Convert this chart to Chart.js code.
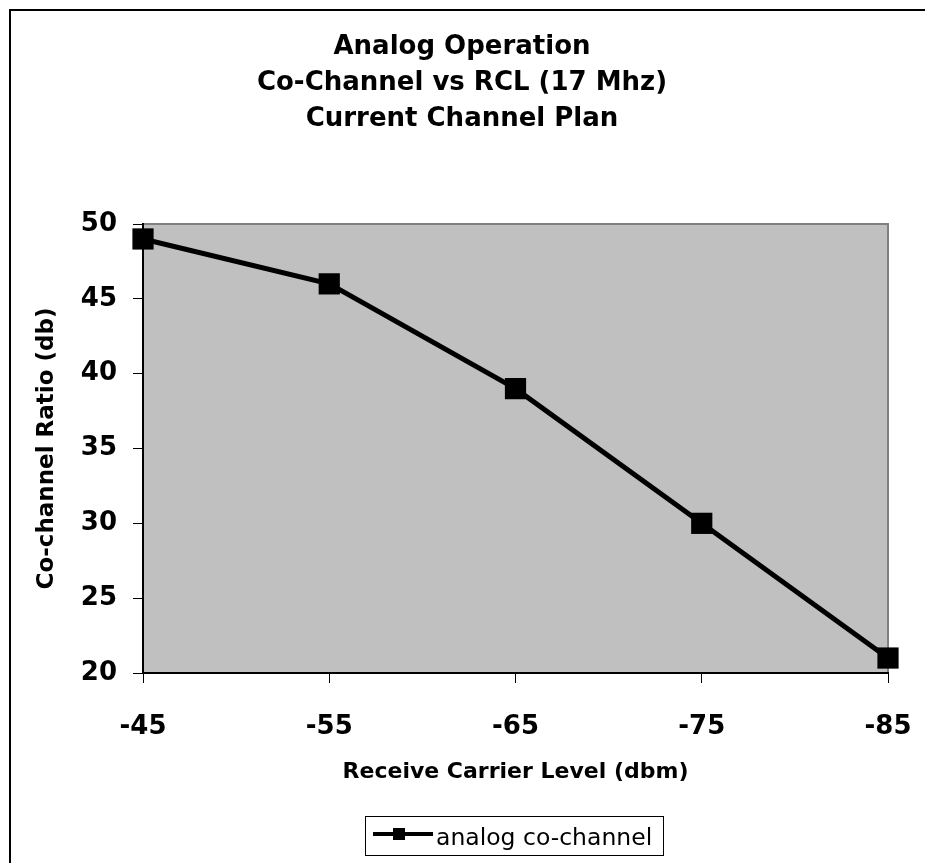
<!DOCTYPE html>
<html>
<head>
<meta charset="utf-8">
<script src="https://cdn.jsdelivr.net/npm/chart.js@4/dist/chart.umd.min.js"></script>
<style>
  html, body { margin: 0; padding: 0; background: #ffffff; }
  #wrap { width: 925px; height: 863px; position: relative; }
  canvas { display: block; }
</style>
</head>
<body>
<div id="wrap"><canvas id="c" width="925" height="863"></canvas></div>
<script>
// Chart content
const titleLines = ['Analog Operation', 'Co-Channel vs RCL (17 Mhz)', 'Current Channel Plan'];
const categories = ['-45', '-55', '-65', '-75', '-85'];
const coChannel = [49, 46, 39, 30, 21];
const seriesName = 'analog co-channel';
const yTicks = [20, 25, 30, 35, 40, 45, 50];
const xAxisTitle = 'Receive Carrier Level (dbm)';
const yAxisTitle = 'Co-channel Ratio (db)';

const FONT = '"DejaVu Sans", "Liberation Sans", Arial, sans-serif';

// Page frame, grey plotting area, heading and legend box
const framePlugin = {
  id: 'frame',
  beforeDraw(chart) {
    const { ctx, chartArea: a } = chart;
    ctx.save();
    ctx.fillStyle = '#ffffff';
    ctx.fillRect(0, 0, chart.width, chart.height);
    // outer frame (top and left edges visible)
    ctx.strokeStyle = '#000000';
    ctx.lineWidth = 2;
    ctx.strokeRect(10, 10, chart.width + 20, chart.height + 20);
    // plot background
    ctx.fillStyle = '#c0c0c0';
    ctx.fillRect(a.left, a.top, a.right - a.left, a.bottom - a.top);
    // top and right plot edges
    ctx.strokeStyle = '#808080';
    ctx.lineWidth = 2;
    ctx.beginPath();
    ctx.moveTo(a.left, a.top);
    ctx.lineTo(a.right, a.top);
    ctx.lineTo(a.right, a.bottom);
    ctx.stroke();
    ctx.restore();
  },
  afterDraw(chart) {
    const { ctx } = chart;
    ctx.save();
    // heading
    ctx.fillStyle = '#000000';
    ctx.font = 'bold 26px ' + FONT;
    ctx.textAlign = 'center';
    ctx.textBaseline = 'middle';
    titleLines.forEach((line, i) => ctx.fillText(line, 462, 47 + i * 36));

    // legend
    const ds = chart.data.datasets[0];
    const bx = 365, by = 816, bw = 298, bh = 39;
    ctx.fillStyle = '#ffffff';
    ctx.fillRect(bx, by, bw, bh);
    ctx.strokeStyle = '#000000';
    ctx.lineWidth = 1;
    ctx.strokeRect(bx + 0.5, by + 0.5, bw, bh);
    const cy = 834;
    ctx.strokeStyle = ds.borderColor;
    ctx.lineWidth = 4;
    ctx.beginPath();
    ctx.moveTo(373, cy);
    ctx.lineTo(433, cy);
    ctx.stroke();
    ctx.fillStyle = ds.pointBackgroundColor;
    ctx.fillRect(393, cy - 6, 12, 12);
    ctx.fillStyle = '#000000';
    ctx.font = '23.5px ' + FONT;
    ctx.textAlign = 'left';
    ctx.textBaseline = 'alphabetic';
    ctx.fillText(ds.label, 436, 845);
    ctx.restore();
  }
};

new Chart(document.getElementById('c'), {
  type: 'line',
  data: {
    labels: categories,
    datasets: [{
      label: seriesName,
      data: coChannel,
      borderColor: '#000000',
      borderWidth: 5,
      backgroundColor: '#000000',
      pointStyle: 'rect',
      pointRadius: 15,
      pointHoverRadius: 15,
      pointBackgroundColor: '#000000',
      pointBorderColor: '#000000',
      pointBorderWidth: 0,
      tension: 0,
      fill: false,
      clip: false
    }]
  },
  options: {
    responsive: false,
    devicePixelRatio: 1,
    animation: false,
    events: [],
    layout: { padding: { top: 224, left: 10, right: 37, bottom: 70 } },
    plugins: {
      legend: { display: false },
      title: { display: false },
      tooltip: { enabled: false }
    },
    scales: {
      x: {
        type: 'category',
        offset: false,
        grid: {
          display: true,
          drawOnChartArea: false,
          drawTicks: true,
          tickLength: 10,
          color: '#000000',
          lineWidth: 1,
          offset: false
        },
        border: { display: true, color: '#000000', width: 2 },
        ticks: {
          color: '#000000',
          font: { family: FONT, size: 26, weight: 'bold' },
          padding: 29,
          maxRotation: 0,
          autoSkip: false
        },
        title: {
          display: true,
          text: xAxisTitle,
          color: '#000000',
          font: { family: FONT, size: 22, weight: 'bold' },
          padding: { top: 0, bottom: 8 }
        },
        afterFit(scale) {
          scale.height = 120;
          // end labels may hang past the plot edges
          scale.paddingLeft = 0;
          scale.paddingRight = 0;
        }
      },
      y: {
        min: 20,
        max: 50,
        grid: {
          display: true,
          drawOnChartArea: false,
          drawTicks: true,
          tickLength: 10,
          color: '#000000',
          lineWidth: 1
        },
        border: { display: true, color: '#000000', width: 2 },
        ticks: {
          color: '#000000',
          font: { family: FONT, size: 26, weight: 'bold' },
          padding: 16
        },
        afterBuildTicks(scale) { scale.ticks = yTicks.map(v => ({ value: v })); },
        title: {
          display: true,
          text: yAxisTitle,
          color: '#000000',
          font: { family: FONT, size: 23, weight: 'bold' },
          padding: { top: 23, bottom: 0 }
        },
        afterFit(scale) { scale.width = 133; }
      }
    }
  },
  plugins: [framePlugin]
});
</script>
</body>
</html>
